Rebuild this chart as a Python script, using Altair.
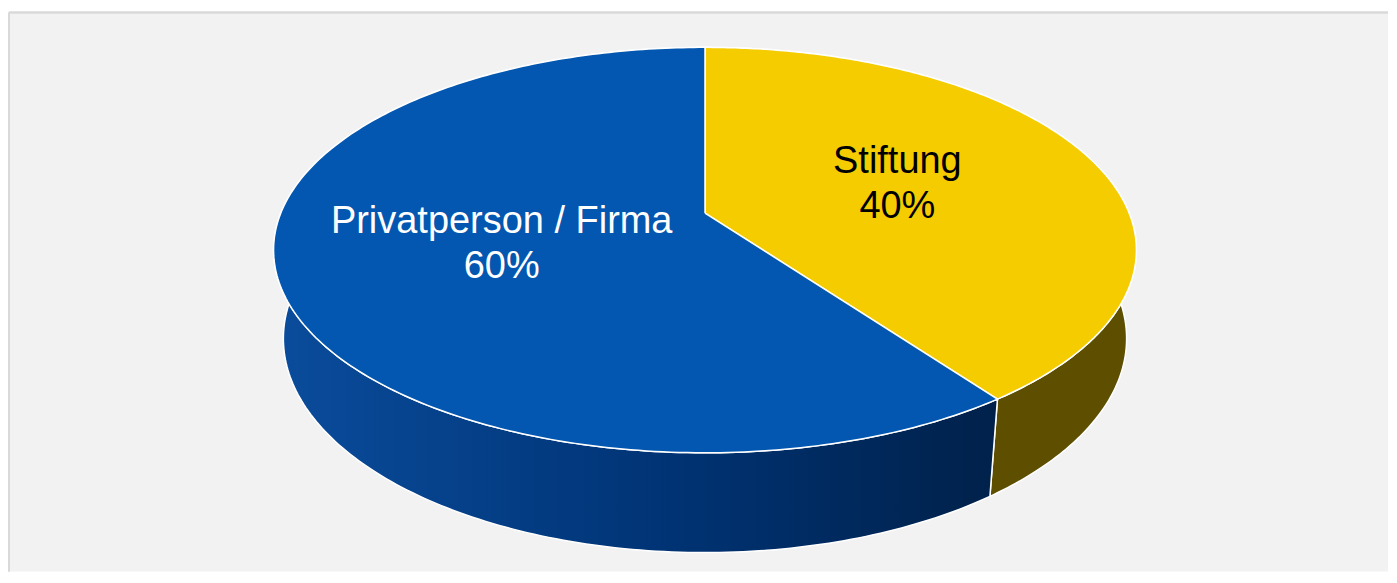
import numpy as np
import pandas as pd
import altair as alt

# ---- data ----
categories = ["Stiftung", "Privatperson / Firma"]
shares = [40, 60]
pct_labels = ["40%", "60%"]
top_colors = ["#F4CC00", "#0357B0"]
text_colors = ["#000000", "#FFFFFF"]

# ---- layout / projection parameters (screen px relative to the view) ----
W, H = 1381, 560
OX, OY = 8, 11          # view origin on the page
CX, CY = 705 - OX, 212 - OY
K = 2066.7              # focal scale
D = 4.865               # camera distance (pie radius = 1)
SA = 0.462              # sin of elevation
CA = float(np.sqrt(1 - SA**2))
THICK = 0.2373          # pie thickness (radius units)


def project(theta_deg, r=1.0, w=0.0):
    t = np.radians(theta_deg)
    u = r * np.sin(t)
    v = r * np.cos(t)
    Z = D + v * CA - w * SA
    Y = v * SA + w * CA
    return CX + K * u / Z, CY - K * Y / Z


rows = []
labels = []
start = 0.0
for i, (cat, s) in enumerate(zip(categories, shares)):
    a0 = start
    a1 = start + 360.0 * s / 100.0
    start = a1
    th = np.linspace(a0, a1, 240)
    # top face polygon: centre -> arc -> centre
    xs, ys = project(th)
    cx0, cy0 = project(np.array([0.0]), r=0.0)
    pts = [(cx0[0], cy0[0])] + list(zip(xs, ys)) + [(cx0[0], cy0[0])]
    for j, (x, y) in enumerate(pts):
        rows.append({"poly": f"top_{i}", "seq": j, "x": x, "y": y})
    # side wall: top rim forward, bottom rim backward
    xb, yb = project(th, w=-THICK)
    wall = list(zip(xs, ys)) + list(zip(xb[::-1], yb[::-1])) + [(xs[0], ys[0])]
    for j, (x, y) in enumerate(wall):
        rows.append({"poly": f"wall_{i}", "seq": j, "x": x, "y": y})
    # label position at mid angle
    lx, ly = project(np.array([(a0 + a1) / 2]), r=0.49)
    labels.append({"cat": cat, "txt": f"{cat}\n{pct_labels[i]}",
                   "x": lx[0], "y": ly[0], "tc": text_colors[i]})

geo = pd.DataFrame(rows)
lab = pd.DataFrame(labels)

xs_ = alt.Scale(domain=[0, W], nice=False, zero=False)
ys_ = alt.Scale(domain=[0, H], nice=False, zero=False, reverse=True)
X = alt.X("x:Q", scale=xs_, axis=None)
Y = alt.Y("y:Q", scale=ys_, axis=None)

base = alt.Chart(geo)


def poly(name, fill):
    return base.transform_filter(alt.datum.poly == name).mark_line(
        filled=True, fill=fill, stroke="white", strokeWidth=1.5,
        strokeJoin="round", interpolate="linear"
    ).encode(x=X, y=Y, order=alt.Order("seq:Q"))


blue_grad = alt.LinearGradient(
    gradient="linear",
    stops=[alt.GradientStop(color="#0A4C9C", offset=0),
           alt.GradientStop(color="#003374", offset=0.55),
           alt.GradientStop(color="#00214A", offset=1)],
    x1=0, x2=1, y1=0, y2=0,
)

wall_y = poly("wall_0", "#5E4E00")
wall_b = poly("wall_1", blue_grad)
top_y = poly("top_0", top_colors[0])
top_b = poly("top_1", top_colors[1])

text = alt.Chart(lab).mark_text(
    font="Liberation Sans", fontSize=38, lineBreak="\n", lineHeight=45,
    align="center", baseline="middle", dy=-22
).encode(x=X, y=Y, text="txt:N", color=alt.Color("tc:N", scale=None))

left_border = alt.Chart(lab).mark_rule(color="#D9D9D9", strokeWidth=2).encode(
    x=alt.value(0), y=alt.value(0), y2=alt.value(H))
top_border = alt.Chart(lab).mark_rule(color="#D9D9D9", strokeWidth=2).encode(
    y=alt.value(0), x=alt.value(0), x2=alt.value(W))

chart = alt.layer(wall_y, wall_b, top_y, top_b, text, left_border, top_border).properties(
    width=W, height=H, padding={"left": 0, "right": 0, "top": 3, "bottom": 0},
    background="white",
).configure_view(fill="#F2F2F2", strokeWidth=0)

chart.save("out.html", embed_options={"renderer": "svg", "actions": False})
